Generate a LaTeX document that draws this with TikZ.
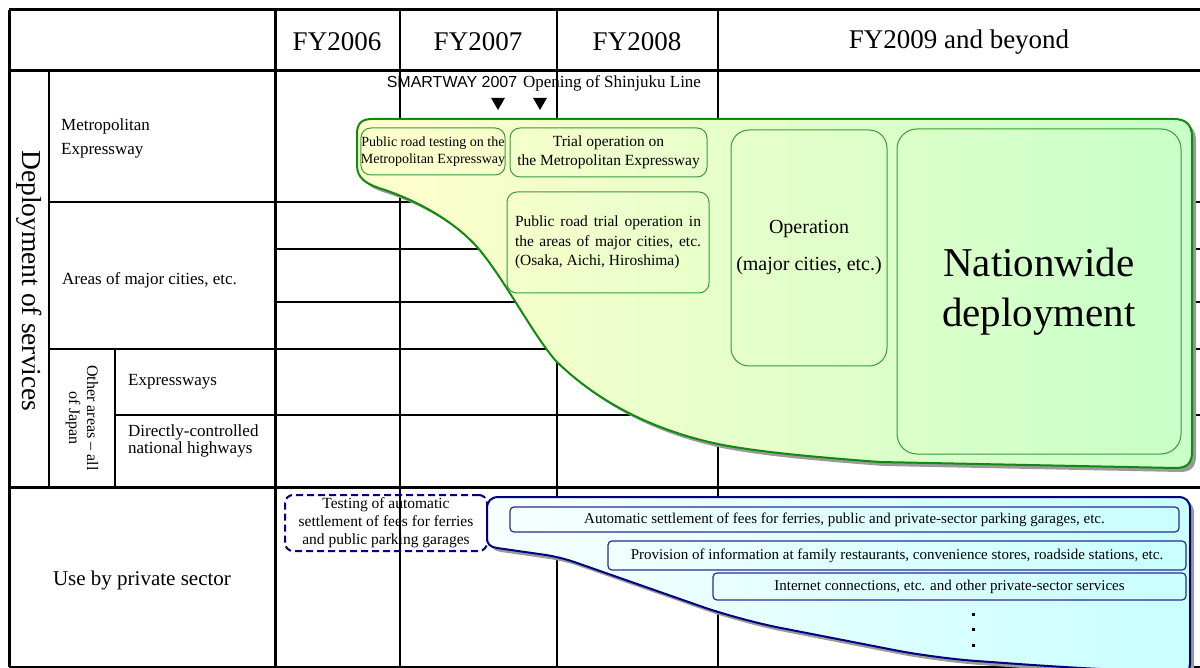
\documentclass[tikz,border=0pt]{standalone}
\usepackage{fontspec}
\setmainfont{Liberation Serif}
\newfontfamily\sansf{Liberation Sans}
\usetikzlibrary{shapes.geometric}
\definecolor{gfillL}{HTML}{FFFFCC}
\definecolor{gfillR}{HTML}{C8FFC8}
\definecolor{gline}{HTML}{108A10}
\definecolor{gbox}{HTML}{3A9A3A}
\definecolor{bfillL}{HTML}{F8FFFF}
\definecolor{bfillR}{HTML}{C8FFFF}
\definecolor{bline}{HTML}{000080}
\definecolor{bbox}{HTML}{2A2A90}
\definecolor{shadowc}{HTML}{9A9A9A}
\newcommand\greenshape{(357,134) .. controls (357,123) and (362,119) .. (372,119) -- (1174,119) .. controls (1186,119) and (1192,125) .. (1192,137) -- (1192,452) .. controls (1192,463) and (1187,468) .. (1176,468) -- (880,462) .. controls (800,456) and (740,450) .. (705,441) .. controls (640,425) and (590,395) .. (555,360) .. controls (530,330) and (505,280) .. (478,248) .. controls (455,222) and (420,202) .. (385,190) .. controls (365,184) and (357,178) .. (357,165) -- cycle}
\newcommand\blueshape{(487,509) .. controls (487,501) and (491,497) .. (499,497) -- (1178,497) .. controls (1186,497) and (1190,501) .. (1190,509) -- (1190,664) .. controls (1190,670) and (1187,673) .. (1180,673) [rounded corners=40pt] -- (1060,667) -- (935,658) -- (740,620) [rounded corners=15pt] -- (560,557) [sharp corners] -- (497,548) .. controls (490,547) and (487,544) .. (487,538) -- cycle}
\begin{document}
\begin{tikzpicture}[x=1pt,y=-1pt,
  thickline/.style={line width=3pt, black},
  thinline/.style={line width=1.4pt, black},
  gbx/.style={draw=gbox, line width=1pt, rounded corners=10pt, inner sep=0pt, align=center},
  bbx/.style={draw=bbox, line width=1.2pt, rounded corners=4pt, inner sep=0pt, align=center, font=\fontsize{15}{18}\selectfont},
  lbl/.style={inner sep=0pt, font=\fontsize{17}{24}\selectfont, align=left, anchor=west},
  hdr/.style={inner sep=0pt, font=\fontsize{27}{30}\selectfont},
  tri/.style={regular polygon, regular polygon sides=3, shape border rotate=180, fill=black, inner sep=0pt, minimum size=16pt},
  dotn/.style={fill=black, inner sep=0pt, minimum size=3pt}
]
\useasboundingbox (0,0) rectangle (1200,668);
\fill[white] (0,0) rectangle (1200,668);
% grid thin lines
\draw[thinline] (49,71) -- (49,487);
\draw[thinline] (115,349) -- (115,487);
\draw[thinline] (400,10) -- (400,667);
\draw[thinline] (557,10) -- (557,667);
\draw[thinline] (718,10) -- (718,667);
\draw[thinline] (49,202) -- (1200,202);
\draw[thinline] (275,249) -- (1200,249);
\draw[thinline] (275,302) -- (1200,302);
\draw[thinline] (49,349) -- (1200,349);
\draw[thinline] (115,415) -- (1200,415);
\draw[thinline] (9,667) -- (1200,667);
% grid thick lines
\draw[thickline] (9,10) -- (1200,10);
\draw[thickline] (9,71) -- (1200,71);
\draw[thickline] (9,487) -- (1200,487);
\draw[thickline] (9,10) -- (9,667);
\draw[thickline] (275,10) -- (275,667);
% header
\node[hdr] (fy6) at (337,42) {FY2006};
\node[hdr] (fy7) at (478,42) {FY2007};
\node[hdr] (fy8) at (637,42) {FY2008};
\node[hdr] (fy9) at (959,42) {FY2009 and beyond};
% row labels
\node[inner sep=0pt, rotate=-90, font=\fontsize{27.5}{30}\selectfont] (dep) at (29,281) {Deployment of services};
\node[lbl] (metro) at (61,138) {Metropolitan\\Expressway};
\node[lbl] (areas) at (62,280) {Areas of major cities, etc.};
\node[inner sep=0pt, rotate=-90, align=center, font=\fontsize{16}{18}\selectfont] (other) at (82,418) {Other areas -- all\\of Japan};
\node[lbl] (expw) at (128,382) {Expressways};
\node[lbl, font=\fontsize{17}{17.5}\selectfont] (direct) at (128,441) {Directly-controlled\\national highways};
\node[inner sep=0pt, font=\fontsize{21}{24}\selectfont] (priv) at (142,580) {Use by private sector};
% milestones
\node[inner sep=0pt, anchor=base, font=\sansf\fontsize{16}{20}\selectfont] (smart) at (452,88) {SMARTWAY 2007};
\node[inner sep=0pt, anchor=base, font=\fontsize{17}{20}\selectfont] (shinj) at (612,88) {Opening of Shinjuku Line};
\node[tri] (tri1) at (498,102) {};
\node[tri] (tri2) at (540,102) {};
% green region
\fill[shadowc, shift={(4,4)}] \greenshape;
\draw[gline, line width=2pt, left color=gfillL, right color=gfillR] \greenshape;
\node[gbx, minimum width=140pt, minimum height=47pt, font=\fontsize{14}{17}\selectfont] (b1) at (433,151.5) {Public road testing on the\\Metropolitan Expressway};
\node[gbx, minimum width=197pt, minimum height=49pt, font=\fontsize{15.5}{19}\selectfont] (b2) at (608.5,152.5) {Trial operation on\\the Metropolitan Expressway};
\node[gbx, minimum width=202pt, minimum height=101pt, align=left, font=\fontsize{15.5}{19.5}\selectfont] (b3) at (608,242.5) {\makebox[186pt][s]{Public road trial operation in}\\\makebox[186pt][s]{the areas of major cities, etc.}\\(Osaka, Aichi, Hiroshima)};
\node[gbx, rounded corners=18pt, minimum width=156pt, minimum height=236pt, font=\fontsize{20}{37}\selectfont] (b4) at (809,248) {Operation\\(major cities, etc.)};
\node[gbx, rounded corners=20pt, minimum width=284pt, minimum height=325pt, font=\fontsize{41}{50}\selectfont] (b5) at (1039,291.5) {Nationwide\\deployment};
% private sector
\node[draw=bline, line width=2pt, dash pattern=on 7pt off 4pt, rounded corners=8pt, inner sep=0pt, minimum width=202pt, minimum height=56pt, align=center, font=\fontsize{15.5}{18}\selectfont] (test) at (386,523) {Testing of automatic\\settlement of fees for ferries\\and public parking garages};
\fill[shadowc, shift={(4,4)}] \blueshape;
\draw[bline, line width=2pt, left color=bfillL, right color=bfillR] \blueshape;
\node[bbx, minimum width=669pt, minimum height=25pt] (p1) at (844.5,519.5) {Automatic settlement of fees for ferries, public and private-sector parking garages, etc.};
\node[bbx, minimum width=578pt, minimum height=29pt] (p2) at (897,555.5) {Provision of information at family restaurants, convenience stores, roadside stations, etc.};
\node[bbx, minimum width=473pt, minimum height=27pt] (p3) at (949.5,586.5) {Internet connections, etc. and other private-sector services};
\node[dotn] (d1) at (973,614) {};
\node[dotn] (d2) at (973,629) {};
\node[dotn] (d3) at (973,645) {};
\end{tikzpicture}
\end{document}
